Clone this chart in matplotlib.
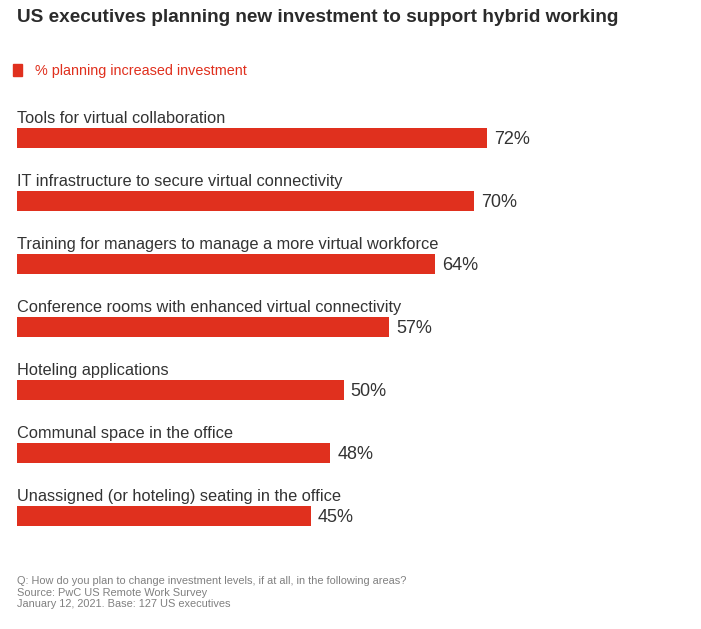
import matplotlib.pyplot as plt

plt.rcParams['font.family'] = ['Liberation Sans', 'DejaVu Sans']

categories = [
    'Tools for virtual collaboration',
    'IT infrastructure to secure virtual connectivity',
    'Training for managers to manage a more virtual workforce',
    'Conference rooms with enhanced virtual connectivity',
    'Hoteling applications',
    'Communal space in the office',
    'Unassigned (or hoteling) seating in the office',
]
values = [72, 70, 64, 57, 50, 48, 45]

red = '#E0301E'
W, H = 701, 629
fig = plt.figure(figsize=(W / 100, H / 100), dpi=100)

# axes placed in pixel terms: bars start at x=17, 6.53 px per percent
ax = fig.add_axes([17 / W, (H - 541) / H, 653 / W, 441 / H])
ax.set_xlim(0, 100)
ax.set_ylim(6 + 25 / 63, -38 / 63)
ax.axis('off')

bar_h = 20 / 63
ys = list(range(len(categories)))
ax.barh(ys, values, height=bar_h, color=red, left=0)

for y, cat, v in zip(ys, categories, values):
    ax.text(0, y - bar_h / 2 - 0.03, cat, ha='left', va='bottom',
            fontsize=11.8, color='#333333')
    ax.annotate(f'{v}%', (v, y), xytext=(5, -1), textcoords='offset points',
                ha='left', va='center', fontsize=13, color='#333333')

fig.text(17 / W, 1 - 17 / H, 'US executives planning new investment to support hybrid working',
         ha='left', va='center', fontsize=13.7, fontweight='bold', color='#2b2b2b')

fig.patches.append(plt.Rectangle((13 / W, 1 - 76 / H), 9 / W, 12 / H,
                                 transform=fig.transFigure, color=red))
fig.text(35 / W, 1 - 71 / H, '% planning increased investment', ha='left', va='center',
         fontsize=10.4, color=red)

footer = ('Q: How do you plan to change investment levels, if at all, in the following areas?\n'
          'Source: PwC US Remote Work Survey\n'
          'January 12, 2021. Base: 127 US executives')
fig.text(17 / W, 1 - 576 / H, footer, ha='left', va='top', fontsize=7.9,
         color='#808080', linespacing=1.2)

fig.savefig('out.png', dpi=100, facecolor='white')
